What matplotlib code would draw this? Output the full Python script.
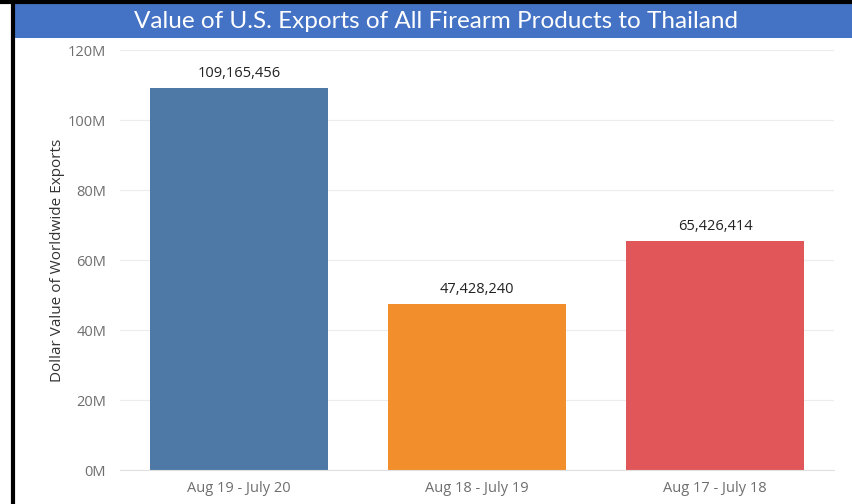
import matplotlib.pyplot as plt
from matplotlib.patches import Rectangle
from matplotlib.lines import Line2D
from matplotlib.ticker import FuncFormatter

periods = ['Aug 19 - July 20', 'Aug 18 - July 19', 'Aug 17 - July 18']
values = [109165456, 47428240, 65426414]
colors = ['#4e79a7', '#f28e2b', '#e15759']

plt.rcParams['font.family'] = ['Open Sans', 'DejaVu Sans']

fig = plt.figure(figsize=(8.53, 5.04), dpi=100)

# title banner and frame lines
fig.patches.append(Rectangle((15/853, 1 - 38/504), 1, 35/504, transform=fig.transFigure,
                             facecolor='#4472c4', edgecolor='none'))
fig.lines.append(Line2D([0, 1], [1 - 1.5/504, 1 - 1.5/504], transform=fig.transFigure,
                        color='black', lw=3))
fig.lines.append(Line2D([13.5/853, 13.5/853], [0, 1], transform=fig.transFigure,
                        color='black', lw=3))
fig.text(436/853, 1 - 21/504, 'Value of U.S. Exports of All Firearm Products to Thailand',
         ha='center', va='center', color='white', fontsize=17.5,
         family=['Lato', 'DejaVu Sans'])

ax = fig.add_axes([120/853, 1 - 470/504, 714/853, 420/504])
x = range(len(periods))
bars = ax.bar(x, values, width=0.75, color=colors)
for i, v in enumerate(values):
    ax.text(i, v + 2.0e6, f'{v:,}', ha='center', va='bottom', fontsize=10.5, color='#222222')

ax.set_xlim(-0.5, len(periods) - 0.5)
ax.set_ylim(0, 120e6)
ax.set_yticks([0, 20e6, 40e6, 60e6, 80e6, 100e6, 120e6])
ax.yaxis.set_major_formatter(FuncFormatter(lambda v, p: f'{v/1e6:.0f}M'))
ax.set_xticks(list(x))
ax.set_xticklabels(periods)
ax.tick_params(axis='both', length=0, colors='#6e6e6e', labelsize=10.5, pad=8)
ax.tick_params(axis='y', pad=10)
ax.grid(axis='y', color='#ececec', lw=0.8)
ax.set_axisbelow(True)
for s in ['top', 'right', 'left']:
    ax.spines[s].set_visible(False)
ax.spines['bottom'].set_color('#e0e0e0')
ax.set_ylabel('Dollar Value of Worldwide Exports', fontsize=11, color='#333333')
ax.yaxis.set_label_coords(-0.077, 0.5)

plt.savefig('out.png', dpi=100)
